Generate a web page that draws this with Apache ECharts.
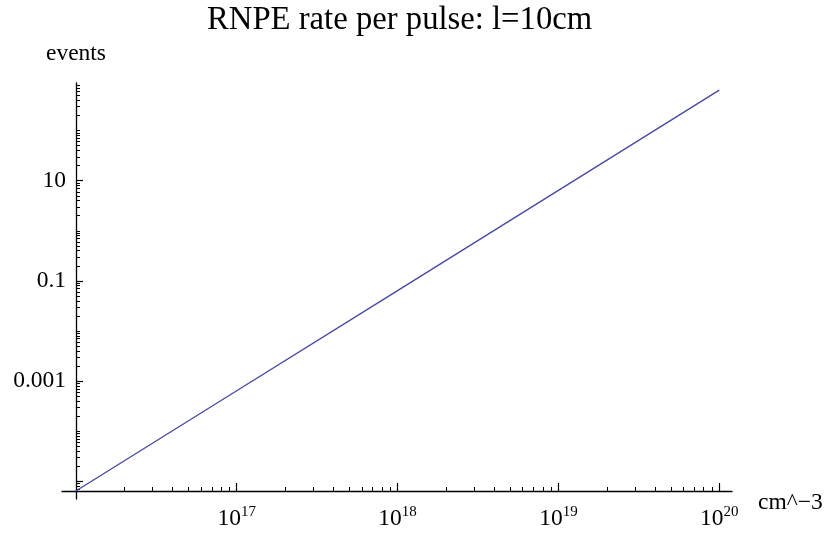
<!DOCTYPE html>
<html>
<head>
<meta charset="utf-8">
<script src="https://cdn.jsdelivr.net/npm/echarts@6/dist/echarts.min.js"></script>
<style>
  html, body { margin: 0; padding: 0; background: #ffffff; }
  #chart { width: 829px; height: 533px; }
</style>
</head>
<body>
<div id="chart"></div>
<script>
// Electron density (cm^-3) and expected events per pulse for a 10 cm path
const densities = [1e16, 1e17, 1e18, 1e19, 1e20];
const eventsPerPulse = [6.4e-6, 6.4e-4, 0.064, 6.4, 640];

// Plotted ranges (where ticks are drawn) and the axis extents, which run
// a little past the crossing point the way the axes overhang at the origin
const xRange = [1e16, 1.2e20];
const yRange = [6.4e-6, 890];
const xAxisMin = 8.2e15;
const yAxisMin = 4.43e-6;

// Labelled ticks
const xTickValues = [1e17, 1e18, 1e19, 1e20];
const yMajorValues = [1e-5, 1e-3, 0.1, 10];
const yLabelValues = [0.001, 0.1, 10];
const yLabelTexts = ['0.001', '0.1', '10'];

const FONT = 'Liberation Serif';
const INK = '#000000';
const LABEL_SIZE = 23.5;

// Log-spaced minor ticks (1..9 x 10^k) inside a range, skipping the major ones
function minorTicks(range, majors) {
  const out = [];
  const k0 = Math.floor(Math.log10(range[0]));
  const k1 = Math.ceil(Math.log10(range[1]));
  for (let k = k0; k <= k1; k++) {
    for (let m = 1; m <= 9; m++) {
      const v = m * Math.pow(10, k);
      if (v < range[0] || v > range[1]) continue;
      if (majors.some(t => Math.abs(t - v) / v < 1e-9)) continue;
      out.push(v);
    }
  }
  return out;
}
const xMinor = minorTicks(xRange, xTickValues.concat([1e16]));
const yMinor = minorTicks(yRange, yMajorValues);

const lineData = densities.map((d, i) => [d, eventsPerPulse[i]]);

const chart = echarts.init(document.getElementById('chart'), null, { renderer: 'canvas' });

// The grid reaches past the axes; offsets pull the axis lines inward so
// that they cross at (1e16, yRange[0]) and each overhangs the other.
const baseX = {
  type: 'log',
  logBase: 10,
  gridIndex: 0,
  position: 'bottom',
  offset: -8,
  min: xAxisMin,
  max: xRange[1],
  splitLine: { show: false },
  minorTick: { show: false },
  minorSplitLine: { show: false }
};
const baseY = {
  type: 'log',
  logBase: 10,
  gridIndex: 0,
  position: 'left',
  offset: -14,
  min: yAxisMin,
  max: yRange[1],
  splitLine: { show: false },
  minorTick: { show: false },
  minorSplitLine: { show: false }
};

chart.setOption({
  animation: false,
  backgroundColor: '#ffffff',
  textStyle: { fontFamily: FONT },
  title: {
    text: 'RNPE rate per pulse: l=10cm',
    left: 207,
    top: 4,
    padding: 0,
    textStyle: { fontFamily: FONT, fontSize: 32.7, fontWeight: 'normal', color: INK }
  },
  grid: { left: 62, right: 97, top: 83, bottom: 34, containLabel: false },
  xAxis: [
    Object.assign({}, baseX, {
      name: 'cm^\u22123',
      nameLocation: 'end',
      nameGap: 26,
      nameTextStyle: {
        fontFamily: FONT, fontSize: LABEL_SIZE, color: INK,
        align: 'left', verticalAlign: 'top'
      },
      axisLine: { show: true, lineStyle: { color: INK, width: 1.3 } },
      axisTick: {
        show: true, inside: true, length: 8,
        customValues: xTickValues,
        lineStyle: { color: INK, width: 1.2 }
      },
      axisLabel: {
        show: true,
        customValues: xTickValues,
        margin: 14,
        color: INK,
        fontFamily: FONT,
        formatter: function (v) {
          return '{b|10}{s|' + Math.round(Math.log10(v)) + '}';
        },
        rich: {
          b: { fontFamily: FONT, fontSize: LABEL_SIZE, lineHeight: 28, color: INK, verticalAlign: 'middle' },
          s: { fontFamily: FONT, fontSize: 15, lineHeight: 15, color: INK, verticalAlign: 'top' }
        }
      }
    }),
    Object.assign({}, baseX, {
      axisLine: { show: false },
      axisLabel: { show: false },
      axisTick: {
        show: true, inside: true, length: 4,
        customValues: xMinor,
        lineStyle: { color: INK, width: 1 }
      }
    })
  ],
  yAxis: [
    Object.assign({}, baseY, {
      name: 'events',
      nameLocation: 'end',
      nameGap: 29,
      nameTextStyle: {
        fontFamily: FONT, fontSize: LABEL_SIZE, color: INK,
        align: 'center', verticalAlign: 'middle'
      },
      axisLine: { show: true, lineStyle: { color: INK, width: 1.3 } },
      axisTick: {
        show: true, inside: true, length: 7,
        customValues: yMajorValues,
        lineStyle: { color: INK, width: 1.2 }
      },
      axisLabel: {
        show: true,
        customValues: yLabelValues,
        margin: 10,
        color: INK,
        fontFamily: FONT,
        fontSize: LABEL_SIZE,
        formatter: function (v) {
          const i = yLabelValues.findIndex(t => Math.abs(t - v) / t < 1e-6);
          return i >= 0 ? yLabelTexts[i] : '';
        }
      }
    }),
    Object.assign({}, baseY, {
      axisLine: { show: false },
      axisLabel: { show: false },
      axisTick: {
        show: true, inside: true, length: 4,
        customValues: yMinor,
        lineStyle: { color: INK, width: 1 }
      }
    })
  ],
  series: [{
    type: 'line',
    xAxisIndex: 0,
    yAxisIndex: 0,
    data: lineData,
    showSymbol: false,
    symbol: 'none',
    clip: false,
    lineStyle: { color: '#4646a4', width: 1.3 }
  }]
});
</script>
</body>
</html>
